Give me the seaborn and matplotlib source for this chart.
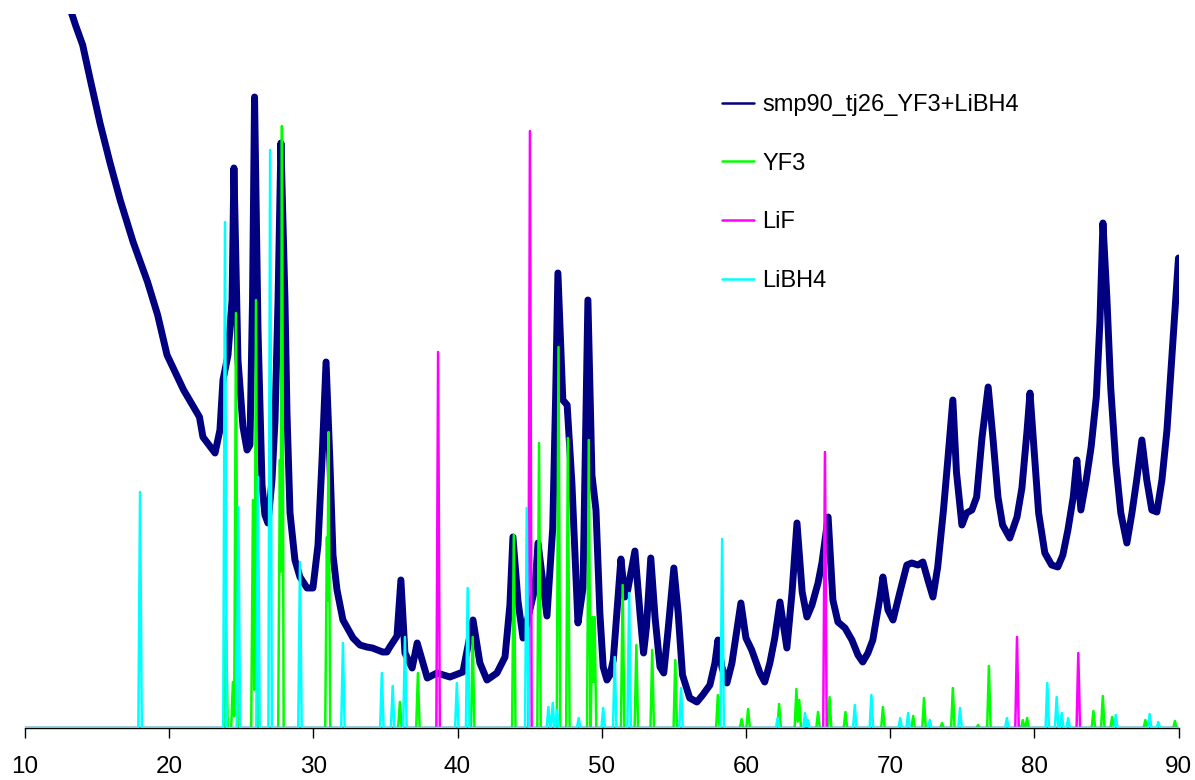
import numpy as np
import pandas as pd
import matplotlib
matplotlib.use("Agg")
import matplotlib.pyplot as plt
import seaborn as sns

# ---------------- data ----------------
two_theta = [10.0, 11.0, 12.0, 13.0, 13.5, 14.0, 14.5, 15.2, 15.9, 16.6, 17.5, 18.5, 19.2, 19.85,
             21.0, 22.1, 22.34, 23.18, 23.52, 23.73, 24.08, 24.36, 24.49, 24.77, 25.12, 25.4, 25.6,
             25.78, 25.92, 26.16, 26.44, 26.64, 26.85, 27.13, 27.34, 27.55, 27.75, 28.03, 28.17,
             28.38, 28.72, 29.07, 29.56, 29.97, 30.32, 30.6, 30.88, 31.15, 31.36, 31.64, 32.05,
             32.75, 33.23, 33.7, 34.1, 34.8, 35.1, 35.3, 35.8, 36.07, 36.35, 36.85, 37.2, 37.9,
             38.57, 39.47, 40.37, 41.07, 41.55, 42.04, 42.73, 43.29, 43.63, 43.84, 44.19, 44.54,
             44.88, 45.37, 45.58, 46.2, 46.6, 46.8, 46.96, 47.3, 47.6, 47.93, 48.35, 48.7, 48.9,
             49.04, 49.32, 49.6, 49.87, 50.1, 50.36, 50.57, 50.8, 51.05, 51.33, 51.6, 51.8, 52.3,
             52.65, 52.9, 53.1, 53.4, 53.7, 54.04, 54.3, 54.6, 55.0, 55.3, 55.6, 56.1, 56.6, 57.0,
             57.5, 57.85, 58.06, 58.33, 58.68, 59.03, 59.37, 59.65, 60.0, 60.4, 60.97, 61.3,
             61.66, 62.0, 62.36, 62.84, 63.2, 63.54, 63.9, 64.23, 64.58, 65.0, 65.27, 65.7, 66.03,
             66.38, 66.87, 67.35, 67.77, 68.1, 68.46, 68.8, 69.3, 69.5, 69.85, 70.2, 70.68, 71.16,
             71.5, 71.93, 72.27, 72.62, 72.97, 73.3, 73.7, 74.0, 74.35, 74.6, 74.98, 75.3, 75.67,
             76.0, 76.37, 76.8, 77.13, 77.48, 77.8, 78.3, 78.8, 79.14, 79.5, 79.7, 79.97, 80.3,
             80.73, 81.2, 81.63, 81.98, 82.33, 82.7, 82.95, 83.23, 83.6, 83.94, 84.3, 84.55,
             84.76, 85.03, 85.3, 85.65, 86.0, 86.42, 86.77, 87.1, 87.46, 87.8, 88.15, 88.5,
             88.85, 89.2, 89.55, 90.0]
sample_intensity = [1000, 900, 800, 725, 703, 683, 650, 605, 565, 528, 486, 446, 413, 373,
                    338, 311, 291, 275, 298, 348, 373, 428, 560, 368, 301, 278, 283,
                    428, 631, 398, 243, 213, 205, 248, 308, 428, 585, 428, 315,
                    215, 168, 151, 140, 140, 183, 268, 366, 265, 173, 138, 108,
                    90, 83, 81, 80, 76, 76, 81, 92, 148, 75, 60, 85, 50,
                    55, 51, 56, 108, 65, 48, 55, 71, 123, 191, 127, 90,
                    110, 140, 185, 112, 200, 330, 455, 328, 323, 245, 105, 140, 308,
                    428, 253, 218, 115, 61, 48, 53, 68, 115, 169, 131, 138, 177,
                    115, 75, 101, 170, 110, 61, 55, 98, 160, 115, 53, 30, 26, 33,
                    43, 65, 88, 61, 45, 65, 98, 125, 90, 78, 55, 46,
                    65, 90, 126, 80, 136, 205, 136, 111, 123, 145, 165, 211, 128,
                    106, 100, 88, 73, 66, 75, 88, 131, 151, 118, 108, 136, 163,
                    165, 163, 166, 148, 131, 161, 218, 268, 328, 256, 203, 215, 218,
                    231, 290, 341, 290, 231, 203, 190, 211, 240, 298, 335, 281, 215,
                    175, 163, 161, 173, 198, 231, 268, 218, 248, 281, 331, 406,
                    505, 431, 340, 265, 215, 185, 215, 248, 288, 248, 218, 216,
                    248, 298, 373, 470]

yf3_pos = [23.94, 24.42, 24.63, 25.81, 26.02, 27.68, 27.82, 30.94, 31.05, 36.0, 37.25, 41.05,
           43.9, 45.65, 47.0, 47.65, 49.1, 49.35, 49.5, 51.45, 52.4, 53.5, 55.1, 58.05, 59.7,
           60.15, 62.3, 63.5, 63.7, 65.0, 65.8, 66.9, 69.5, 71.6, 72.35, 73.6, 74.35, 76.1,
           76.85, 79.2, 79.5, 84.1, 84.75, 85.4, 87.7, 89.75]
yf3_int = [111, 46, 415, 228, 428, 268, 602, 191, 296, 26, 55, 91,
           193, 285, 381, 290, 288, 111, 111, 143, 83, 78, 68, 33, 9,
           19, 24, 39, 28, 16, 31, 16, 21, 12, 30, 5, 40, 3,
           62, 8, 10, 17, 32, 11, 8, 7]

lif_pos = [38.65, 45.02, 65.48, 78.8, 83.05]
lif_int = [376, 597, 276, 91, 75]

libh4_pos = [17.98, 23.87, 24.8, 26.16, 27.0, 29.07, 32.05, 34.75, 35.5, 36.35, 39.95, 40.7,
             44.8, 46.3, 46.6, 46.9, 48.4, 50.1, 50.9, 51.9, 55.5, 58.35, 62.2, 64.1, 64.3,
             67.55, 68.7, 70.7, 71.25, 72.75, 74.85, 78.1, 80.9, 81.55, 81.9, 82.35, 85.65,
             88.0, 88.6]
libh4_int = [236, 506, 221, 251, 578, 166, 85, 55, 42, 91, 45, 140,
             220, 21, 25, 18, 10, 20, 71, 135, 40, 189, 10, 15, 8,
             23, 33, 10, 15, 8, 20, 10, 45, 31, 15, 10, 13,
             14, 6]

labels = ["smp90_tj26_YF3+LiBH4", "YF3", "LiF", "LiBH4"]
x_ticks = [10, 20, 30, 40, 50, 60, 70, 80, 90]

# ---------------- rendering ----------------
sns.set_theme(style="white")
plt.rcParams["font.family"] = ["Liberation Sans", "DejaVu Sans"]
plt.rcParams["text.color"] = "black"

fig = plt.figure(figsize=(11.95, 7.8), dpi=100)
ax = fig.add_axes([25 / 1195, 52 / 780, (1178.5 - 25) / 1195, (728 - 14) / 780])

grid = np.arange(10.0, 90.0001, 0.01)
half_width = 0.12


def stick_profile(pos, inten):
    prof = np.zeros_like(grid)
    for p, h in zip(pos, inten):
        prof = np.maximum(prof, h * np.clip(1 - np.abs(grid - p) / half_width, 0, 1))
    return prof


sample_df = pd.DataFrame({"two_theta": two_theta, "intensity": sample_intensity})
sns.lineplot(data=sample_df, x="two_theta", y="intensity", ax=ax, color="#000080",
             lw=5.0, label=labels[0], estimator=None)

for pos, inten, col, lab in [(yf3_pos, yf3_int, "#00ff00", labels[1]),
                             (lif_pos, lif_int, "#ff00ff", labels[2]),
                             (libh4_pos, libh4_int, "#00ffff", labels[3])]:
    df = pd.DataFrame({"two_theta": grid, "intensity": stick_profile(pos, inten)})
    sns.lineplot(data=df, x="two_theta", y="intensity", ax=ax, color=col, lw=1.8,
                 label=lab, estimator=None)

ax.set_xlim(10, 90)
ax.set_ylim(0, 714)
ax.set_xticks(x_ticks)
ax.set_xticklabels([str(t) for t in x_ticks])
ax.set_yticks([])
ax.set_xlabel("")
ax.set_ylabel("")
for s in ["top", "right", "left"]:
    ax.spines[s].set_visible(False)
ax.spines["bottom"].set_color("#000000")
ax.spines["bottom"].set_linewidth(1.0)
ax.spines["bottom"].set_zorder(0)
ax.tick_params(axis="x", direction="out", length=7, width=1, color="#000000",
               labelcolor="#000000", labelsize=17.5, pad=13, bottom=True)
ax.set_facecolor("white")

leg = ax.legend(loc="upper left", bbox_to_anchor=((722 - 25) / (1178.5 - 25), 1 - (94 - 14) / 714),
                frameon=False, fontsize=17, handlelength=1.35, handletextpad=0.35,
                labelspacing=1.55, borderaxespad=0, borderpad=0, labelcolor="#000000")
for h in leg.get_lines():
    h.set_linewidth(1.8)

fig.savefig("out.png", dpi=100, facecolor="white")
